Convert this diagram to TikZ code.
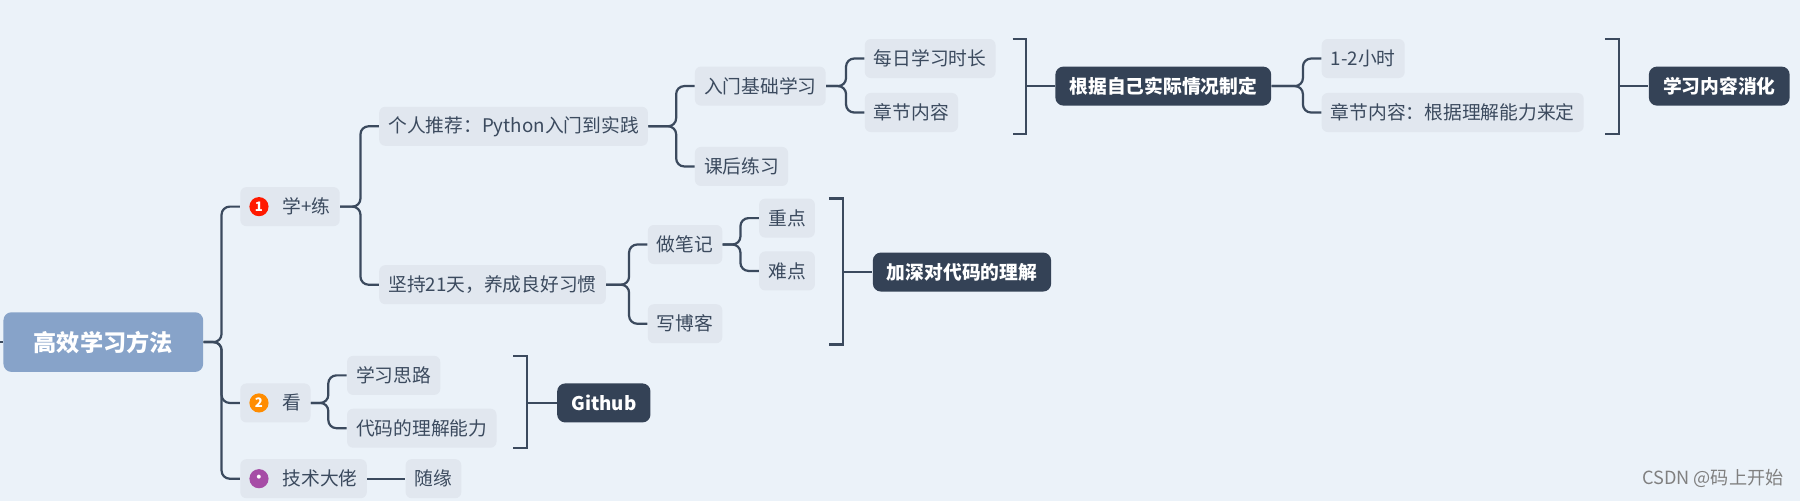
\documentclass[tikz,border=0pt]{standalone}
\usepackage{fontspec}
\setmainfont{Noto Sans CJK SC}
\definecolor{bg}{HTML}{EBF2F9}
\definecolor{lt}{HTML}{E1E7EF}
\definecolor{dk}{HTML}{344256}
\definecolor{ln}{HTML}{3B4A5E}
\definecolor{rootc}{HTML}{87A3C9}
\newcommand\numicon[2]{\tikz[baseline=-0.65ex]\node[circle,fill=#1,text=white,inner sep=0pt,minimum size=9.5pt,font=\fontsize{6.5}{6.5}\selectfont\bfseries]{#2};}
\begin{document}
\begin{tikzpicture}[x=0.02cm,y=-0.02cm,
 lt/.style={anchor=west,fill=lt,rounded corners=3pt,minimum height=0.68cm,inner xsep=4.5pt,font=\fontsize{9.3}{10}\selectfont,text=ln},
 dk/.style={anchor=west,fill=dk,rounded corners=4pt,minimum height=0.68cm,inner xsep=7pt,font=\fontsize{9.3}{10}\selectfont\bfseries,text=white},
 conn/.style={draw=ln,line width=1.1pt,rounded corners=4pt},
 br/.style={draw=ln,line width=1.1pt}]
\fill[bg] (0,0) rectangle (1568,436);
\useasboundingbox (0,0) rectangle (1568,436);
\node[fill=rootc,rounded corners=4pt,minimum width=3.48cm,minimum height=1.04cm,text=white,font=\fontsize{11.5}{12}\selectfont\bfseries] (root) at (90,298) {高效学习方法};
\node[lt] (a) at (209,180) {\numicon{red!80!orange}{1}\hspace{7pt}学+练};
\node[lt] (b) at (209,351) {\numicon{orange!90!yellow}{2}\hspace{7pt}看};
\node[lt] (c) at (209,417) {\numicon{violet!70}{\scriptsize\char"2022}\hspace{7pt}技术大佬};
\node[lt] (a1) at (330,110) {个人推荐：Python入门到实践};
\node[lt] (a2) at (330,248) {坚持21天，养成良好习惯};
\node[lt] (a11) at (605,75) {入门基础学习};
\node[lt] (a12) at (605,145) {课后练习};
\node[lt] (m1) at (753,51) {每日学习时长};
\node[lt] (m2) at (753,98) {章节内容};
\node[dk] (g1) at (919,75) {根据自己实际情况制定};
\node[lt] (h1) at (1151,51) {1-2小时};
\node[lt] (h2) at (1151,98) {章节内容：根据理解能力来定};
\node[dk] (g2) at (1436,75) {学习内容消化};
\node[lt] (a21) at (564,213) {做笔记};
\node[lt] (a22) at (564,282) {写博客};
\node[lt] (z1) at (661,190) {重点};
\node[lt] (z2) at (661,236) {难点};
\node[dk] (g3) at (760,237) {加深对代码的理解};
\node[lt] (b1) at (302,327) {学习思路};
\node[lt] (b2) at (302,373) {代码的理解能力};
\node[dk] (g4) at (485,351) {Github};
\node[lt] (c1) at (353,417) {随缘};
\node[text=gray,font=\fontsize{9}{10}\selectfont] (wm) at (1492,417) {CSDN @码上开始};
% connectors
\coordinate (s0) at (0,298);
\draw[conn] (s0) -- (root.west);
\coordinate (t0) at (193,0);
\foreach \c in {a,b,c}{\draw[conn] (root.east) -- (root.east -| t0) |- (\c.west);}
\coordinate (t1) at (314,0);
\foreach \c in {a1,a2}{\draw[conn] (a.east) -- (a.east -| t1) |- (\c.west);}
\coordinate (t2) at (589,0);
\foreach \c in {a11,a12}{\draw[conn] (a1.east) -- (a1.east -| t2) |- (\c.west);}
\coordinate (t3) at (737,0);
\foreach \c in {m1,m2}{\draw[conn] (a11.east) -- (a11.east -| t3) |- (\c.west);}
\coordinate (t4) at (1135,0);
\foreach \c in {h1,h2}{\draw[conn] (g1.east) -- (g1.east -| t4) |- (\c.west);}
\coordinate (t5) at (548,0);
\foreach \c in {a21,a22}{\draw[conn] (a2.east) -- (a2.east -| t5) |- (\c.west);}
\coordinate (t6) at (645,0);
\foreach \c in {z1,z2}{\draw[conn] (a21.east) -- (a21.east -| t6) |- (\c.west);}
\coordinate (t7) at (286,0);
\foreach \c in {b1,b2}{\draw[conn] (b.east) -- (b.east -| t7) |- (\c.west);}
\draw[conn] (c.east) -- (c1.west);
% brackets
\coordinate (k1) at (894,34); \coordinate (k1b) at (894,117);
\draw[br] (882,34) -- (k1) -- (k1b) -- (882,117);
\draw[conn] (k1 |- g1.west) -- (g1.west);
\coordinate (k2) at (1410,34); \coordinate (k2b) at (1410,117);
\draw[br] (1398,34) -- (k2) -- (k2b) -- (1398,117);
\draw[conn] (k2 |- g2.west) -- (g2.west);
\coordinate (k3) at (734,173); \coordinate (k3b) at (734,300);
\draw[br] (722,173) -- (k3) -- (k3b) -- (722,300);
\draw[conn] (k3 |- g3.west) -- (g3.west);
\coordinate (k4) at (459,310); \coordinate (k4b) at (459,390);
\draw[br] (447,310) -- (k4) -- (k4b) -- (447,390);
\draw[conn] (k4 |- g4.west) -- (g4.west);
\end{tikzpicture}
\end{document}
